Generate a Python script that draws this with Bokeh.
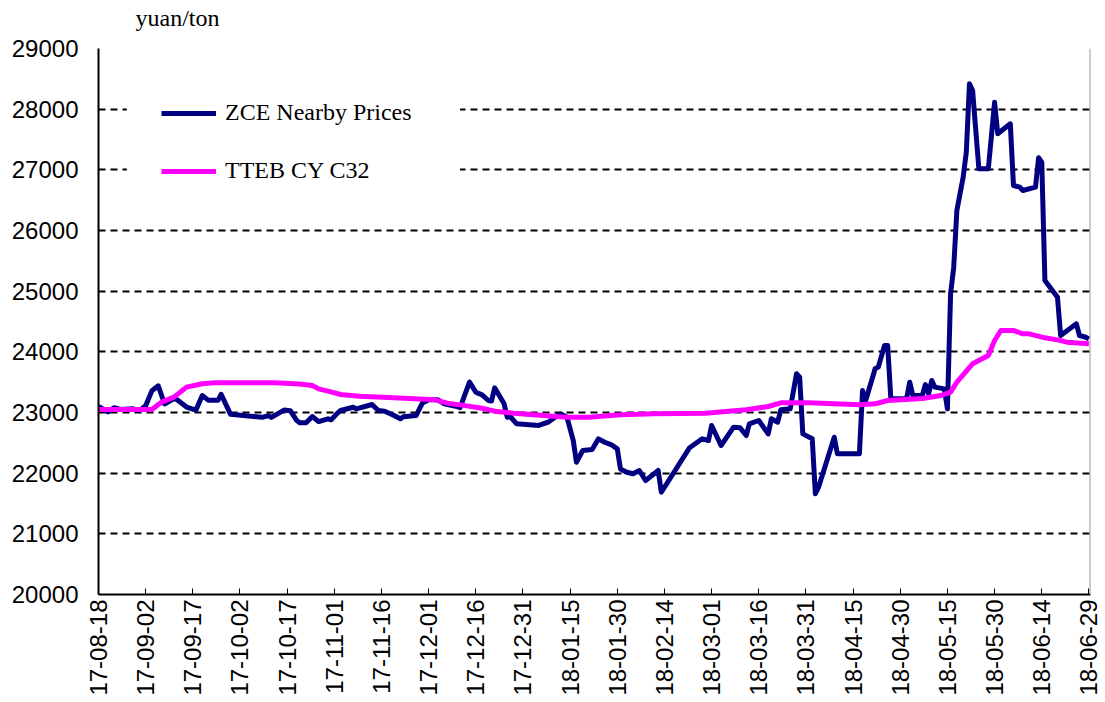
import pandas as pd
from bokeh.plotting import figure
from bokeh.models import (Range1d, FixedTicker, DatetimeTickFormatter, Legend, LegendItem,
                          Span, Title, ColumnDataSource, BoxAnnotation)
from bokeh.embed import file_html
from bokeh.resources import INLINE
from math import pi

# ---------------- data ----------------
zce_dates = ["2017-08-18", "2017-08-21", "2017-08-23", "2017-08-25", "2017-08-29", "2017-08-31",
             "2017-09-02", "2017-09-04", "2017-09-06", "2017-09-08", "2017-09-11", "2017-09-12",
             "2017-09-15", "2017-09-18", "2017-09-20", "2017-09-22", "2017-09-25", "2017-09-26",
             "2017-09-29", "2017-10-09", "2017-10-11", "2017-10-12", "2017-10-16", "2017-10-18",
             "2017-10-20", "2017-10-21", "2017-10-23", "2017-10-25", "2017-10-27", "2017-10-30",
             "2017-10-31", "2017-11-02", "2017-11-03", "2017-11-07", "2017-11-08", "2017-11-13",
             "2017-11-15", "2017-11-17", "2017-11-20", "2017-11-22", "2017-11-23", "2017-11-27",
             "2017-11-28", "2017-11-29", "2017-12-01", "2017-12-04", "2017-12-06", "2017-12-07",
             "2017-12-10", "2017-12-11", "2017-12-14", "2017-12-16", "2017-12-18", "2017-12-20",
             "2017-12-21", "2017-12-22", "2017-12-25", "2017-12-26", "2017-12-27", "2017-12-29",
             "2018-01-05", "2018-01-08", "2018-01-11", "2018-01-12", "2018-01-14", "2018-01-16",
             "2018-01-17", "2018-01-19", "2018-01-22", "2018-01-24", "2018-01-26", "2018-01-28",
             "2018-01-30", "2018-01-31", "2018-02-02", "2018-02-04", "2018-02-06", "2018-02-08",
             "2018-02-10", "2018-02-12", "2018-02-13", "2018-02-22", "2018-02-23", "2018-02-26",
             "2018-02-28", "2018-03-01", "2018-03-04", "2018-03-08", "2018-03-10", "2018-03-12",
             "2018-03-13", "2018-03-16", "2018-03-19", "2018-03-20", "2018-03-22", "2018-03-23",
             "2018-03-26", "2018-03-28", "2018-03-29", "2018-03-30", "2018-04-02", "2018-04-03",
             "2018-04-04", "2018-04-09", "2018-04-10", "2018-04-17", "2018-04-18", "2018-04-19",
             "2018-04-22", "2018-04-23", "2018-04-25", "2018-04-26", "2018-04-27", "2018-05-02",
             "2018-05-03", "2018-05-04", "2018-05-07", "2018-05-08", "2018-05-09", "2018-05-10",
             "2018-05-11", "2018-05-14", "2018-05-15", "2018-05-16", "2018-05-17", "2018-05-18",
             "2018-05-20", "2018-05-21", "2018-05-22", "2018-05-23", "2018-05-25", "2018-05-28",
             "2018-05-30", "2018-05-31", "2018-06-04", "2018-06-05", "2018-06-07", "2018-06-08",
             "2018-06-12", "2018-06-13", "2018-06-14", "2018-06-15", "2018-06-19", "2018-06-20",
             "2018-06-25", "2018-06-26", "2018-06-28", "2018-06-29"]
zce_values = [23100, 23010, 23080, 23050, 23060, 23030,
              23110, 23360, 23440, 23140, 23230, 23210,
              23090, 23040, 23280, 23200, 23200, 23300,
              22970, 22920, 22950, 22920, 23040, 23030,
              22870, 22830, 22830, 22934, 22850, 22896,
              22880, 22990, 23033, 23087, 23060, 23132,
              23033, 23020, 22950, 22896, 22930, 22950,
              23050, 23154, 23209, 23209, 23143, 23130,
              23099, 23080, 23500, 23335, 23291, 23198,
              23190, 23407, 23143, 22922, 22930, 22813,
              22786, 22840, 22950, 22978, 22922, 22538,
              22180, 22373, 22390, 22566, 22510, 22472,
              22400, 22070, 22015, 21990, 22044, 21879,
              21961, 22044, 21686, 22420, 22456, 22566,
              22538, 22786, 22456, 22758, 22750, 22621,
              22813, 22868, 22648, 22896, 22840, 23044,
              23060, 23638, 23583, 22648, 22566, 21660,
              21769, 22593, 22318, 22318, 23362, 23198,
              23720, 23748, 24104, 24104, 23226, 23226,
              23500, 23280, 23280, 23461, 23308, 23527,
              23418, 23390, 23060, 24956, 25395, 26330,
              26878, 27290, 28418, 28308, 27016, 27016,
              28115, 27594, 27759, 26742, 26714, 26659,
              26714, 27198, 27126, 25176, 24900, 24269,
              24462, 24269, 24241, 24214]

tteb_dates = ["2017-08-18", "2017-09-04", "2017-09-07", "2017-09-11", "2017-09-15", "2017-09-20",
              "2017-09-24", "2017-10-13", "2017-10-21", "2017-10-25", "2017-10-27", "2017-10-30",
              "2017-11-03", "2017-11-09", "2017-11-20", "2017-12-03", "2017-12-07", "2017-12-11",
              "2017-12-18", "2017-12-22", "2017-12-25", "2017-12-28", "2018-01-14", "2018-01-21",
              "2018-01-31", "2018-02-11", "2018-02-27", "2018-03-12", "2018-03-19", "2018-03-23",
              "2018-04-01", "2018-04-17", "2018-04-22", "2018-04-26", "2018-05-03", "2018-05-07",
              "2018-05-13", "2018-05-16", "2018-05-18", "2018-05-23", "2018-05-28", "2018-05-30",
              "2018-06-01", "2018-06-05", "2018-06-08", "2018-06-10", "2018-06-15", "2018-06-19",
              "2018-06-22", "2018-06-29"]
tteb_values = [23050, 23050, 23170, 23253, 23418, 23473,
               23490, 23490, 23470, 23445, 23390, 23352,
               23297, 23269, 23242, 23209, 23154, 23126,
               23071, 23022, 23005, 22989, 22922, 22922,
               22962, 22978, 22989, 23044, 23099, 23159,
               23159, 23126, 23143, 23198, 23220, 23230,
               23280, 23335, 23500, 23803, 23940, 24187,
               24352, 24352, 24297, 24297, 24231, 24197,
               24159, 24132]

tick_dates = ["2017-08-18", "2017-09-02", "2017-09-17", "2017-10-02", "2017-10-17", "2017-11-01",
              "2017-11-16", "2017-12-01", "2017-12-16", "2017-12-31", "2018-01-15", "2018-01-30",
              "2018-02-14", "2018-03-01", "2018-03-16", "2018-03-31", "2018-04-15", "2018-04-30",
              "2018-05-15", "2018-05-30", "2018-06-14", "2018-06-29"]
y_ticks = [20000, 21000, 22000, 23000, 24000, 25000, 26000, 27000, 28000, 29000]

series_names = ["ZCE Nearby Prices", "TTEB CY C32"]
unit_label = "yuan/ton"

# ---------------- figure ----------------
x_start = pd.Timestamp(tick_dates[0])
x_end = pd.Timestamp(tick_dates[-1]) + pd.Timedelta(hours=12)

def ms(ts):
    return float(pd.Timestamp(ts).value // 10**6)

p = figure(width=1105, height=700, output_backend="svg", toolbar_location=None,
           x_axis_type="datetime",
           x_range=Range1d(x_start, x_end), y_range=Range1d(20000, 29000),
           min_border_left=98, min_border_right=15, min_border_top=48, min_border_bottom=106)
p.outline_line_color = None
p.background_fill_color = "white"

# white legend backdrop (hides the grid behind the legend like the original)
p.add_layout(BoxAnnotation(left=ms("2017-08-27"), right=ms("2017-12-11"),
                           bottom=26200, top=28800, fill_color="white", fill_alpha=1.0,
                           line_color=None, level="underlay"))

src1 = ColumnDataSource(dict(x=pd.to_datetime(zce_dates), y=zce_values))
src2 = ColumnDataSource(dict(x=pd.to_datetime(tteb_dates), y=tteb_values))
r1 = p.line("x", "y", source=src1, line_color="#000080", line_width=5, line_join="round")
r2 = p.line("x", "y", source=src2, line_color="#FF00FF", line_width=5, line_join="round")

# axes
tick_ms = [ms(d) for d in tick_dates]
p.xaxis.ticker = FixedTicker(ticks=tick_ms)
fmt = "%y-%m-%d"
p.xaxis.formatter = DatetimeTickFormatter(microseconds=fmt, milliseconds=fmt, seconds=fmt,
                                          minsec=fmt, minutes=fmt, hourmin=fmt, hours=fmt,
                                          days=fmt, months=fmt, years=fmt)
p.xaxis.major_label_orientation = pi / 2
p.xaxis.major_label_text_font = "Liberation Sans"
p.xaxis.major_label_text_font_size = "24px"
p.xaxis.major_label_text_color = "black"
p.xaxis.major_label_standoff = 5
p.xaxis.major_tick_in = 6
p.xaxis.major_tick_out = 0
p.xaxis.minor_tick_line_color = None
p.xaxis.axis_line_color = "black"
p.xaxis.axis_line_width = 2
p.xaxis.major_tick_line_color = "black"

p.yaxis.ticker = FixedTicker(ticks=y_ticks)
p.yaxis.major_label_text_font = "Liberation Sans"
p.yaxis.major_label_text_font_size = "24px"
p.yaxis.major_label_text_color = "black"
p.yaxis.major_label_standoff = 20
p.yaxis.major_tick_in = 0
p.yaxis.major_tick_out = 0
p.yaxis.minor_tick_line_color = None
p.yaxis.axis_line_color = "black"
p.yaxis.axis_line_width = 2

p.xgrid.grid_line_color = None
p.ygrid.grid_line_color = "black"
p.ygrid.grid_line_dash = "7 5"
p.ygrid.grid_line_width = 2

p.add_layout(Span(location=x_end, dimension="height", line_color="#9a9a9a", line_width=2))

# unit label as the (outermost) plot title, lifted by a small blank spacer panel
p.title.text = unit_label
p.title.align = "left"
p.title.offset = 37
p.title.standoff = 0
p.title.vertical_align = "bottom"
p.title.text_font = "Liberation Serif"
p.title.text_font_style = "normal"
p.title.text_font_size = "24px"
p.title.text_color = "black"
p.add_layout(Title(text=" ", text_font_size="14px", standoff=0), "above")

legend = Legend(items=[LegendItem(label=series_names[0], renderers=[r1]),
                       LegendItem(label=series_names[1], renderers=[r2])],
                location=(63, 410), orientation="vertical",
                label_text_font="Liberation Serif", label_text_font_size="24px",
                label_text_color="black",
                glyph_width=55, glyph_height=20, label_height=20, label_standoff=9,
                label_width=234, spacing=31, padding=0,
                background_fill_color="white", background_fill_alpha=0.0,
                border_line_color=None)
p.add_layout(legend, "center")

open("out.html", "w").write(file_html(p, INLINE))
